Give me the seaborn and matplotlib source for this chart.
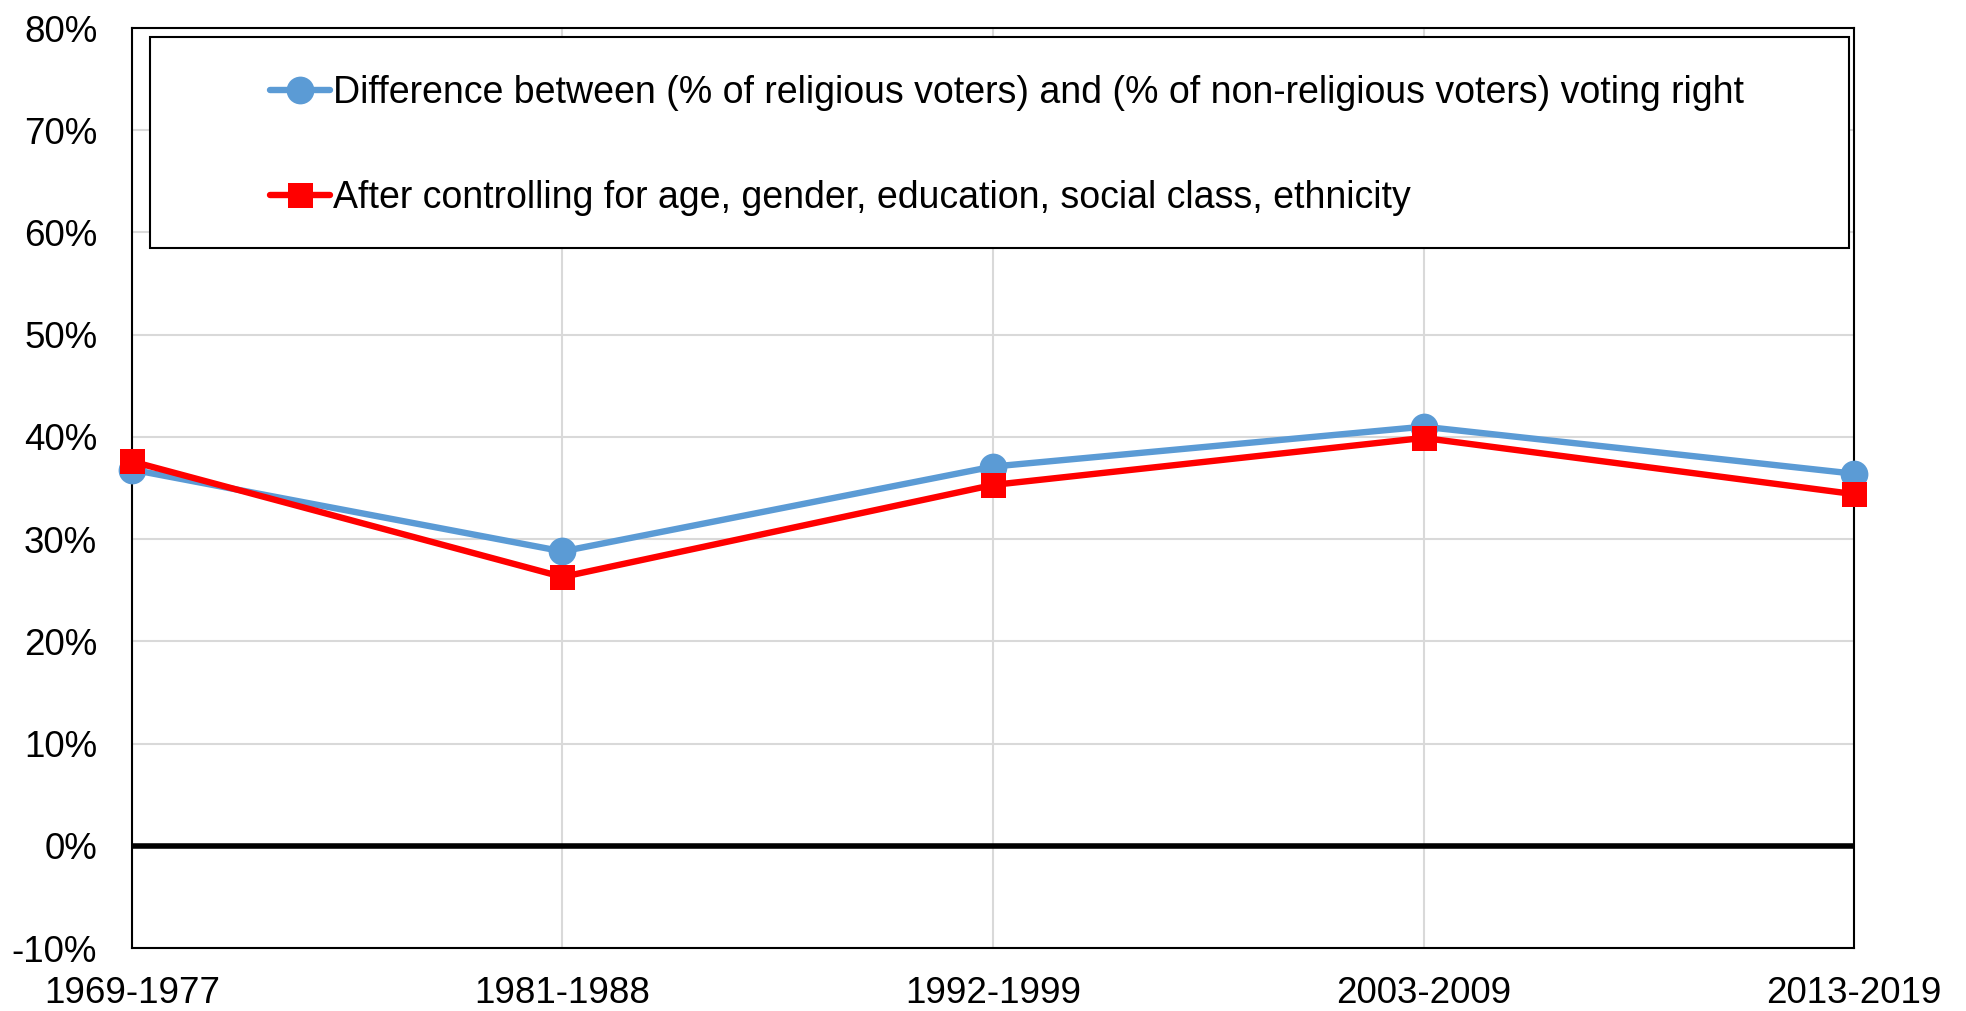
import pandas as pd
import matplotlib.pyplot as plt
import matplotlib.patches as mpatches
from matplotlib.ticker import FuncFormatter
import seaborn as sns

periods = ["1969-1977", "1981-1988", "1992-1999", "2003-2009", "2013-2019"]
raw_gap = [36.8, 28.8, 37.1, 41.0, 36.4]
controlled_gap = [37.6, 26.3, 35.3, 39.9, 34.4]

label_raw = "Difference between (% of religious voters) and (% of non-religious voters) voting right"
label_ctrl = "After controlling for age, gender, education, social class, ethnicity"

df = pd.DataFrame({"period": periods, "raw": raw_gap, "ctrl": controlled_gap})
df["pos"] = range(len(periods))

sns.set_style("white")
plt.rcParams["font.family"] = ["Liberation Sans", "DejaVu Sans"]
plt.rcParams["text.color"] = "black"

fig = plt.figure(figsize=(19.66, 10.11), dpi=100)
ax = fig.add_axes([0.0671, 0.0623, 0.876, 0.910])

# ── grid & zero line ─────────────────────────────────────────────────────
ax.set_axisbelow(True)
ax.grid(True, color="#d9d9d9", linewidth=1.5)
ax.axhline(0, color="black", linewidth=4, zorder=2)

# ── series ───────────────────────────────────────────────────────────────
n_before = len(ax.lines)
sns.lineplot(data=df, x="pos", y="raw", ax=ax, color="#5b9bd5",
             marker="o", markeredgewidth=0, label=label_raw, zorder=4)
sns.lineplot(data=df, x="pos", y="ctrl", ax=ax, color="#ff0000",
             marker="s", markeredgewidth=0, label=label_ctrl, zorder=5)
series_lines = ax.lines[n_before:]
for ln, ms in zip(series_lines, [20, 18]):
    ln.set_linewidth(4.6)
    ln.set_markersize(ms)
    ln.set_clip_on(False)

ax.set_xlim(0, len(periods) - 1)
ax.set_ylim(-10, 80)
ax.set_xticks(df["pos"])
ax.set_xticklabels(periods)
ax.set_yticks(range(-10, 81, 10))
ax.yaxis.set_major_formatter(FuncFormatter(lambda v, _: f"{v:.0f}%"))
ax.tick_params(axis="both", length=0, labelsize=26.5, colors="black")
ax.tick_params(axis="y", pad=25)
ax.tick_params(axis="x", pad=20)
ax.set_xlabel("")
ax.set_ylabel("")

for sp in ax.spines.values():
    sp.set_visible(True)
    sp.set_color("black")
    sp.set_linewidth(1.5)

# ── legend box ───────────────────────────────────────────────────────────
box = mpatches.Rectangle((0.0105, 0.761), 0.9865, 0.229, transform=ax.transAxes,
                         facecolor="white", edgecolor="black", linewidth=1.5, zorder=6)
ax.add_patch(box)
leg = ax.legend(loc="upper left", bbox_to_anchor=(0.080, 0.949), frameon=False,
                fontsize=27, handlelength=1.6, handletextpad=0.1, labelspacing=1.85,
                borderpad=0, borderaxespad=0)
leg.set_zorder(7)
for t in leg.get_texts():
    t.set_color("black")

plt.savefig("out.png", dpi=100)
plt.close()
